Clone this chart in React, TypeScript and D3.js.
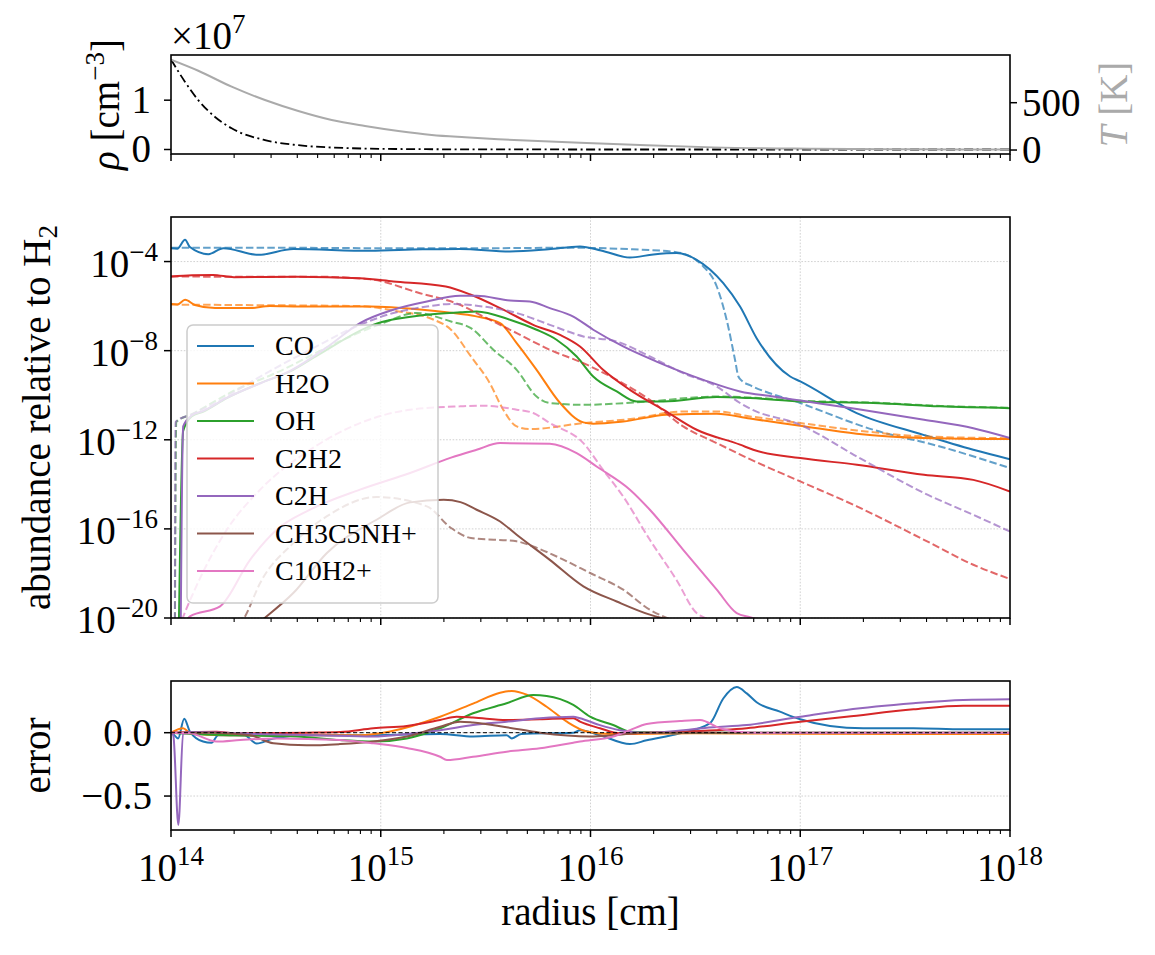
import React from "react";
import * as d3 from "d3";

type Pt = [number, number];

// log10(r / cm) vs log10(n / n_H2); solid = model, dashed = reference
const coSolid: Pt[] = [[14.0,-3.40],[14.03,-3.42],[14.067,-3.02],[14.09,-3.35],[14.178,-3.67],[14.25,-3.40],[14.416,-3.70],[14.583,-3.44],[14.949,-3.52],[15.2,-3.45],[15.378,-3.44],[15.616,-3.55],[15.8,-3.45],[15.95,-3.32],[16.05,-3.5],[16.188,-3.82],[16.3,-3.68],[16.411,-3.62],[16.506,-3.92],[16.633,-4.97],[16.713,-6.02],[16.792,-7.44],[16.952,-9.16],[17.0,-9.38],[17.269,-10.80],[17.587,-11.78],[17.825,-12.45],[18.0,-12.87]];
const coDashed: Pt[] = [[14.0,-3.38],[14.5,-3.38],[15.0,-3.40],[15.5,-3.40],[15.9,-3.38],[16.2,-3.45],[16.41,-3.58],[16.538,-4.22],[16.602,-5.12],[16.649,-6.61],[16.689,-8.41],[16.705,-9.16],[16.725,-9.38],[16.76,-9.55],[17.0,-10.35],[17.348,-11.55],[17.666,-12.30],[18.0,-13.27]];

const h2oSolid: Pt[] = [[14.0,-5.91],[14.03,-5.93],[14.067,-5.72],[14.114,-5.95],[14.21,-6.09],[14.377,-6.09],[14.472,-6.00],[14.615,-6.02],[14.949,-6.02],[15.187,-6.15],[15.335,-6.30],[15.45,-6.45],[15.569,-6.76],[15.648,-7.66],[15.743,-8.86],[15.855,-10.35],[15.966,-11.22],[16.013,-11.28],[16.156,-11.18],[16.363,-10.88],[16.602,-10.83],[16.76,-11.05],[17.0,-11.37],[17.269,-11.73],[17.587,-11.92],[18.0,-11.97]];
const h2oDashed: Pt[] = [[14.0,-5.93],[14.3,-5.95],[14.6,-5.97],[14.9,-6.0],[15.06,-6.2],[15.25,-6.6],[15.335,-7.06],[15.43,-8.26],[15.52,-9.46],[15.584,-10.65],[15.648,-11.40],[15.71,-11.52],[15.966,-11.25],[16.19,-11.07],[16.44,-10.73],[16.60,-10.73],[16.76,-10.95],[17.0,-11.25],[17.27,-11.58],[17.59,-11.85],[18.0,-11.93]];

const ohSolid: Pt[] = [[14.035,-22],[14.058,-11.6],[14.098,-10.95],[14.155,-10.73],[14.266,-10.13],[14.425,-9.46],[14.568,-8.93],[14.7,-8.2],[14.963,-6.84],[15.22,-6.39],[15.38,-6.28],[15.457,-6.24],[15.616,-6.61],[15.743,-7.06],[15.838,-7.51],[15.934,-8.26],[16.013,-9.16],[16.125,-9.83],[16.22,-10.28],[16.347,-10.28],[16.602,-10.08],[16.76,-10.13],[17.0,-10.28],[17.348,-10.35],[17.666,-10.5],[18.0,-10.58]];
const ohDashed: Pt[] = [[14.018,-22],[14.025,-11.2],[14.1,-10.85],[14.3,-9.8],[14.5,-9.0],[14.8,-7.6],[15.0,-6.8],[15.17,-6.31],[15.335,-6.69],[15.43,-6.99],[15.537,-7.96],[15.648,-8.86],[15.743,-10.06],[15.806,-10.35],[15.966,-10.43],[16.22,-10.32],[16.602,-10.06],[16.76,-10.1],[17.0,-10.25],[17.35,-10.33],[17.67,-10.48],[18.0,-10.56]];

const c2h2Solid: Pt[] = [[14.0,-4.67],[14.1,-4.62],[14.2,-4.6],[14.3,-4.7],[14.6,-4.68],[14.9,-4.75],[15.06,-4.89],[15.31,-5.12],[15.43,-5.49],[15.584,-6.16],[15.727,-6.84],[15.855,-7.29],[15.95,-7.81],[16.06,-8.86],[16.188,-9.76],[16.347,-10.65],[16.506,-11.55],[16.713,-12.22],[16.776,-12.45],[17.0,-12.82],[17.27,-13.12],[17.59,-13.57],[17.825,-13.80],[18.0,-14.32]];
const c2h2Dashed: Pt[] = [[14.0,-4.67],[14.3,-4.68],[14.7,-4.68],[14.95,-4.8],[15.187,-5.42],[15.378,-5.94],[15.49,-6.47],[15.648,-7.21],[15.806,-7.96],[15.966,-8.56],[16.125,-9.31],[16.283,-10.21],[16.442,-11.40],[16.602,-12.15],[16.76,-12.87],[17.0,-13.87],[17.27,-14.99],[17.59,-16.49],[17.825,-17.61],[18.0,-18.25]];

const c2hSolid: Pt[] = [[14.045,-22],[14.058,-11.4],[14.1,-10.9],[14.155,-10.7],[14.27,-10.1],[14.43,-9.45],[14.57,-8.9],[14.75,-7.8],[14.901,-6.76],[15.06,-6.16],[15.22,-5.79],[15.378,-5.54],[15.457,-5.54],[15.616,-5.75],[15.711,-5.79],[15.806,-6.09],[15.918,-6.47],[16.013,-7.06],[16.156,-7.81],[16.315,-8.49],[16.538,-9.31],[16.713,-9.83],[16.872,-10.06],[17.0,-10.24],[17.27,-10.62],[17.59,-11.10],[17.825,-11.48],[18.0,-11.92]];
const c2hDashed: Pt[] = [[14.018,-22],[14.022,-11.2],[14.1,-10.85],[14.2,-10.4],[14.425,-9.16],[14.663,-7.96],[14.901,-6.84],[15.06,-6.31],[15.22,-6.02],[15.335,-5.90],[15.49,-6.02],[15.648,-6.31],[15.806,-6.84],[15.966,-7.36],[16.125,-7.59],[16.283,-8.26],[16.442,-9.01],[16.602,-9.61],[16.713,-10.35],[16.76,-10.6],[17.0,-11.33],[17.27,-12.75],[17.59,-14.39],[17.825,-15.37],[18.0,-16.12]];

const ch3c5nhSolid: Pt[] = [[14.3,-21],[14.455,-19.93],[14.583,-18.88],[14.742,-17.09],[14.98,-15.59],[15.14,-14.81],[15.3,-14.69],[15.38,-14.8],[15.457,-15.14],[15.569,-15.67],[15.648,-16.26],[15.806,-17.39],[15.966,-18.58],[16.125,-19.26],[16.283,-19.85],[16.33,-19.98],[16.5,-20.3],[16.85,-20.1],[17.0,-20.05],[17.2,-20.3],[18.0,-20.5]];
const ch3c5nhDashed: Pt[] = [[14.25,-21],[14.353,-19.93],[14.425,-18.43],[14.583,-16.64],[14.742,-15.44],[14.98,-14.57],[15.22,-14.99],[15.335,-15.96],[15.43,-16.41],[15.648,-16.56],[15.727,-16.79],[15.855,-17.31],[15.998,-17.98],[16.156,-18.73],[16.283,-19.63],[16.347,-19.93],[16.5,-20.3],[18.0,-20.5]];

const c10h2Solid: Pt[] = [[14.03,-21],[14.09,-19.93],[14.234,-19.48],[14.377,-17.39],[14.504,-16.04],[14.663,-15.14],[14.901,-14.24],[15.14,-13.49],[15.335,-12.8],[15.457,-12.45],[15.569,-12.15],[15.806,-12.18],[15.934,-12.60],[16.029,-13.20],[16.188,-14.24],[16.283,-15.14],[16.442,-16.94],[16.602,-18.73],[16.697,-19.78],[16.76,-19.96],[17.0,-20.3],[18.0,-20.3]];
const c10h2Dashed: Pt[] = [[14.02,-21],[14.059,-19.93],[14.106,-18.88],[14.266,-16.04],[14.425,-14.24],[14.663,-12.45],[14.901,-11.25],[15.14,-10.65],[15.378,-10.50],[15.49,-10.47],[15.648,-10.65],[15.727,-10.80],[15.806,-11.25],[15.966,-12.15],[16.06,-13.35],[16.156,-14.55],[16.283,-16.49],[16.41,-18.29],[16.506,-19.78],[16.538,-19.96],[16.7,-20.3],[18.0,-20.3]];

// relative error, log10(r) vs value
const coErr: Pt[] = [[14.0,0],[14.006,-0.005],[14.034,-0.045],[14.063,0.11],[14.09,0.01],[14.153,-0.07],[14.193,-0.08],[14.225,-0.02],[14.35,-0.02],[14.408,-0.085],[14.488,-0.045],[14.647,-0.02],[14.965,-0.02],[15.283,-0.01],[15.44,-0.03],[15.6,-0.02],[15.625,-0.045],[15.67,-0.01],[15.92,0.0],[15.95,0.02],[16.045,-0.02],[16.188,-0.09],[16.268,-0.06],[16.427,-0.005],[16.57,0.075],[16.633,0.27],[16.697,0.36],[16.745,0.31],[16.792,0.24],[16.903,0.166],[17.0,0.106],[17.142,0.053],[17.3,0.035],[17.54,0.035],[17.777,0.027],[18.0,0.027]];
const h2oErr: Pt[] = [[14.0,0],[14.058,0.035],[14.09,0.0],[14.25,-0.02],[14.9,-0.02],[15.044,0.01],[15.283,0.126],[15.44,0.23],[15.569,0.316],[15.625,0.33],[15.696,0.30],[15.791,0.205],[15.887,0.087],[15.982,0.01],[16.1,-0.01],[16.5,-0.005],[17.0,-0.008],[18.0,-0.01]];
const ohErr: Pt[] = [[14.0,0],[14.1,-0.01],[14.3,-0.02],[14.6,-0.03],[14.805,-0.058],[14.965,-0.07],[15.124,-0.045],[15.283,0.035],[15.44,0.153],[15.6,0.232],[15.727,0.297],[15.791,0.29],[15.918,0.219],[15.998,0.126],[16.108,0.061],[16.188,0.008],[16.4,0.0],[17.0,0.0],[18.0,0.0]];
const c2h2Err: Pt[] = [[14.0,0],[14.218,0.008],[14.3,-0.005],[14.647,0],[14.807,0.005],[14.965,0.035],[15.124,0.053],[15.283,0.10],[15.362,0.126],[15.44,0.12],[15.6,0.10],[15.759,0.106],[15.918,0.114],[15.95,0.087],[16.045,0.035],[16.14,-0.005],[16.427,0.008],[16.745,0.035],[17.0,0.087],[17.22,0.126],[17.54,0.185],[17.777,0.213],[18.0,0.213]];
const c2hErr: Pt[] = [[14.0,0],[14.011,-0.02],[14.035,-0.728],[14.058,0],[14.1,0.005],[14.4,-0.01],[14.7,-0.02],[14.965,-0.03],[15.124,-0.01],[15.283,0.02],[15.44,0.061],[15.6,0.087],[15.759,0.114],[15.918,0.126],[15.95,0.114],[16.045,0.06],[16.14,0.02],[16.268,0.0],[16.585,0.043],[16.745,0.061],[17.0,0.126],[17.22,0.18],[17.54,0.232],[17.777,0.258],[18.0,0.264]];
const ch3c5nhErr: Pt[] = [[14.0,0],[14.2,0.0],[14.376,-0.02],[14.488,-0.084],[14.647,-0.1],[14.805,-0.09],[14.965,-0.07],[15.124,-0.03],[15.283,0.047],[15.378,0.087],[15.44,0.08],[15.6,0.043],[15.759,0],[15.998,-0.03],[16.108,-0.02],[16.268,0],[18.0,0]];
const c10h2Err: Pt[] = [[14.0,0],[14.09,-0.005],[14.218,-0.07],[14.33,-0.058],[14.5,-0.045],[14.805,-0.058],[14.965,-0.084],[15.124,-0.12],[15.283,-0.19],[15.315,-0.216],[15.44,-0.19],[15.6,-0.15],[15.759,-0.123],[15.918,-0.079],[15.95,-0.07],[16.108,-0.03],[16.188,0.02],[16.268,0.069],[16.427,0.092],[16.522,0.10],[16.617,0.035],[16.697,0.008],[16.8,0],[18.0,0]];

// gas density (units of 1e7 cm^-3) and temperature (K)
const densityLogR = [14.0, 14.067, 14.13, 14.21, 14.289, 14.448, 14.607, 14.766, 15.084, 15.5, 16.0, 17.0, 18.0];
const densityE7 = [1.825, 1.37, 1.0, 0.66, 0.43, 0.19, 0.087, 0.04, 0.01, 0.002, 0.0003, 0.00002, 0];
const tempLogR = [14.0, 14.13, 14.289, 14.448, 14.607, 14.766, 14.925, 15.084, 15.243, 15.402, 15.56, 15.72, 15.95, 16.268, 16.584, 17.06, 17.538, 18.0];
const tempK = [955, 838, 669, 528, 412, 317, 254, 201, 159, 134, 113, 98, 77, 50, 28, 14, 7, 6];

const speciesNames = ["CO", "H2O", "OH", "C2H2", "C2H", "CH3C5NH+", "C10H2+"];
const speciesColors = ["#1f77b4", "#ff7f0e", "#2ca02c", "#d62728", "#9467bd", "#8c564b", "#e377c2"];
const solidSets = [coSolid, h2oSolid, ohSolid, c2h2Solid, c2hSolid, ch3c5nhSolid, c10h2Solid];
const dashedSets = [coDashed, h2oDashed, ohDashed, c2h2Dashed, c2hDashed, ch3c5nhDashed, c10h2Dashed];
const errorSets = [coErr, h2oErr, ohErr, c2h2Err, c2hErr, ch3c5nhErr, c10h2Err];

const W = 1155;
const H = 955;
const X0 = 171;
const X1 = 1010;
const top = { y0: 55, y1: 154 };
const mid = { y0: 217, y1: 618 };
const bot = { y0: 681, y1: 830 };

const FONT = "'Liberation Serif', 'DejaVu Serif', serif";
const FS = 39;
const SUP = 27;

const x = d3.scaleLog().domain([1e14, 1e18]).range([X0, X1]);
const yRho = d3.scaleLinear().domain([-0.0913, 1.916]).range([top.y1, top.y0]);
const yT = d3.scaleLinear().domain([-42, 1004]).range([top.y1, top.y0]);
const yAb = d3.scaleLog().domain([1e-20, 1e-2]).range([mid.y1, mid.y0]);
const yErr = d3.scaleLinear().domain([-0.768, 0.408]).range([bot.y1, bot.y0]);

const majorX = [1e14, 1e15, 1e16, 1e17, 1e18];
const minorX = d3.range(14, 18).flatMap((e) => d3.range(2, 10).map((k) => k * 10 ** e));

const abLine = d3
  .line<Pt>()
  .x((d) => x(10 ** d[0]))
  .y((d) => yAb(10 ** d[1]))
  .curve(d3.curveMonotoneX);

const errLine = d3
  .line<Pt>()
  .x((d) => x(10 ** d[0]))
  .y((d) => yErr(d[1]))
  .curve(d3.curveMonotoneX);

const rhoLine = d3
  .line<number>()
  .x((_, i) => x(10 ** densityLogR[i]))
  .y((d) => yRho(d))
  .curve(d3.curveMonotoneX);

const tLine = d3
  .line<number>()
  .x((_, i) => x(10 ** tempLogR[i]))
  .y((d) => yT(d))
  .curve(d3.curveMonotoneX);

function XTicks({ y }: { y: number }) {
  return (
    <g stroke="#000" strokeWidth={1.5}>
      {majorX.map((v) => (
        <line key={"M" + v} x1={x(v)} x2={x(v)} y1={y} y2={y + 7} />
      ))}
      {minorX.map((v) => (
        <line key={"m" + v} x1={x(v)} x2={x(v)} y1={y} y2={y + 4} strokeWidth={1.1} />
      ))}
    </g>
  );
}

function Pow({ x: px, y, exp, anchor }: { x: number; y: number; exp: string; anchor: "start" | "middle" | "end" }) {
  return (
    <text x={px} y={y} textAnchor={anchor} fontSize={FS}>
      <tspan>10</tspan>
      <tspan dy={-16} fontSize={SUP}>{exp}</tspan>
    </text>
  );
}

function Grid({ ys, y0, y1 }: { ys: number[]; y0: number; y1: number }) {
  return (
    <g stroke="#b0b0b0" strokeWidth={0.8} strokeDasharray="1.6,1.6" opacity={0.7}>
      {majorX.slice(1, -1).map((v) => (
        <line key={"gx" + v} x1={x(v)} x2={x(v)} y1={y0} y2={y1} />
      ))}
      {ys.map((py) => (
        <line key={"gy" + py} x1={X0} x2={X1} y1={py} y2={py} />
      ))}
    </g>
  );
}

export default function App() {
  const abTicks = [-4, -8, -12, -16, -20];
  const legendRows = speciesNames.map((_, i) => 346 + i * 37.5);

  return (
    <svg
      width={W}
      height={H}
      viewBox={`0 0 ${W} ${H}`}
      style={{ position: "absolute", left: 0, top: 0, background: "#fff" }}
      fontFamily={FONT}
    >
      <defs>
        <clipPath id="clipTop">
          <rect x={X0} y={top.y0} width={X1 - X0} height={top.y1 - top.y0} />
        </clipPath>
        <clipPath id="clipMid">
          <rect x={X0} y={mid.y0} width={X1 - X0} height={mid.y1 - mid.y0} />
        </clipPath>
        <clipPath id="clipBot">
          <rect x={X0} y={bot.y0} width={X1 - X0} height={bot.y1 - bot.y0} />
        </clipPath>
      </defs>
      <rect width={W} height={H} fill="#fff" />

      {/* density / temperature panel */}
      <g clipPath="url(#clipTop)">
        <path d={rhoLine(densityE7) ?? ""} fill="none" stroke="#000" strokeWidth={1.8} strokeDasharray="9,3.5,2,3.5" />
        <path d={tLine(tempK) ?? ""} fill="none" stroke="#aaaaaa" strokeWidth={2} />
      </g>
      <rect x={X0} y={top.y0} width={X1 - X0} height={top.y1 - top.y0} fill="none" stroke="#000" strokeWidth={1.6} />
      <XTicks y={top.y1} />
      {[0, 1].map((v) => (
        <g key={"rho" + v}>
          <line x1={X0 - 7} x2={X0} y1={yRho(v)} y2={yRho(v)} stroke="#000" strokeWidth={1.5} />
          <text x={X0 - 20} y={yRho(v) + 13} textAnchor="end" fontSize={FS}>{v}</text>
        </g>
      ))}
      {[0, 500].map((v) => (
        <g key={"T" + v}>
          <line x1={X1} x2={X1 + 7} y1={yT(v)} y2={yT(v)} stroke="#000" strokeWidth={1.5} />
          <text x={X1 + 12} y={yT(v) + 13} textAnchor="start" fontSize={FS}>{v}</text>
        </g>
      ))}
      <text x={171} y={49} fontSize={FS}>
        <tspan>×10</tspan>
        <tspan dy={-16} fontSize={SUP}>7</tspan>
      </text>
      <text transform={`translate(119,${(top.y0 + top.y1) / 2}) rotate(-90)`} textAnchor="middle" fontSize={FS}>
        <tspan fontStyle="italic">ρ</tspan>
        <tspan> [cm</tspan>
        <tspan dy={-15} fontSize={SUP}>−3</tspan>
        <tspan dy={15}>]</tspan>
      </text>
      <text transform={`translate(1127,${(top.y0 + top.y1) / 2}) rotate(-90)`} textAnchor="middle" fontSize={FS} fill="#aaaaaa">
        <tspan fontStyle="italic">T</tspan>
        <tspan> [K]</tspan>
      </text>

      {/* abundance panel */}
      <Grid ys={abTicks.map((e) => yAb(10 ** e))} y0={mid.y0} y1={mid.y1} />
      <g clipPath="url(#clipMid)" fill="none">
        {speciesNames.map((name, i) => (
          <g key={"ab" + name}>
            <path d={abLine(solidSets[i]) ?? ""} stroke={speciesColors[i]} strokeWidth={2} />
            <path d={abLine(dashedSets[i]) ?? ""} stroke={speciesColors[i]} strokeWidth={2} strokeDasharray="7.5,3.2" opacity={0.7} />
          </g>
        ))}
      </g>
      <rect x={X0} y={mid.y0} width={X1 - X0} height={mid.y1 - mid.y0} fill="none" stroke="#000" strokeWidth={1.6} />
      <XTicks y={mid.y1} />
      {abTicks.map((e) => (
        <g key={"ya" + e}>
          <line x1={X0 - 7} x2={X0} y1={yAb(10 ** e)} y2={yAb(10 ** e)} stroke="#000" strokeWidth={1.5} />
          <Pow x={X0 - 13} y={yAb(10 ** e) + 15} exp={"−" + Math.abs(e)} anchor="end" />
        </g>
      ))}
      <text transform={`translate(50,${(mid.y0 + mid.y1) / 2}) rotate(-90)`} textAnchor="middle" fontSize={FS}>
        <tspan>abundance relative to H</tspan>
        <tspan dy={7} fontSize={SUP}>2</tspan>
      </text>

      {/* legend */}
      <rect x={187} y={325} width={251} height={278} rx={6} fill="#fff" fillOpacity={0.8} stroke="#cccccc" strokeWidth={1.5} />
      {speciesNames.map((name, i) => (
        <g key={"lg" + name}>
          <line x1={197} x2={254} y1={legendRows[i]} y2={legendRows[i]} stroke={speciesColors[i]} strokeWidth={2} />
          <text x={275} y={legendRows[i] + 9} fontSize={28}>{name}</text>
        </g>
      ))}

      {/* error panel */}
      <Grid ys={[0, -0.5].map((v) => yErr(v))} y0={bot.y0} y1={bot.y1} />
      <g clipPath="url(#clipBot)" fill="none">
        {speciesNames.map((name, i) => (
          <path key={"er" + name} d={errLine(errorSets[i]) ?? ""} stroke={speciesColors[i]} strokeWidth={2} />
        ))}
        <line x1={X0} x2={X1} y1={yErr(0)} y2={yErr(0)} stroke="#000" strokeWidth={1} strokeDasharray="4,2.5" />
      </g>
      <rect x={X0} y={bot.y0} width={X1 - X0} height={bot.y1 - bot.y0} fill="none" stroke="#000" strokeWidth={1.6} />
      <XTicks y={bot.y1} />
      {[0, -0.5].map((v) => (
        <g key={"ye" + v}>
          <line x1={X0 - 7} x2={X0} y1={yErr(v)} y2={yErr(v)} stroke="#000" strokeWidth={1.5} />
          <text x={X0 - 19} y={yErr(v) + 13} textAnchor="end" fontSize={FS}>
            {v === 0 ? "0.0" : "−0.5"}
          </text>
        </g>
      ))}
      <text transform={`translate(50,${(bot.y0 + bot.y1) / 2}) rotate(-90)`} textAnchor="middle" fontSize={FS}>
        error
      </text>
      {majorX.map((v, i) => (
        <Pow key={"xl" + v} x={x(v)} y={881} exp={String(14 + i)} anchor="middle" />
      ))}
      <text x={(X0 + X1) / 2} y={925} textAnchor="middle" fontSize={FS}>
        radius [cm]
      </text>
    </svg>
  );
}
